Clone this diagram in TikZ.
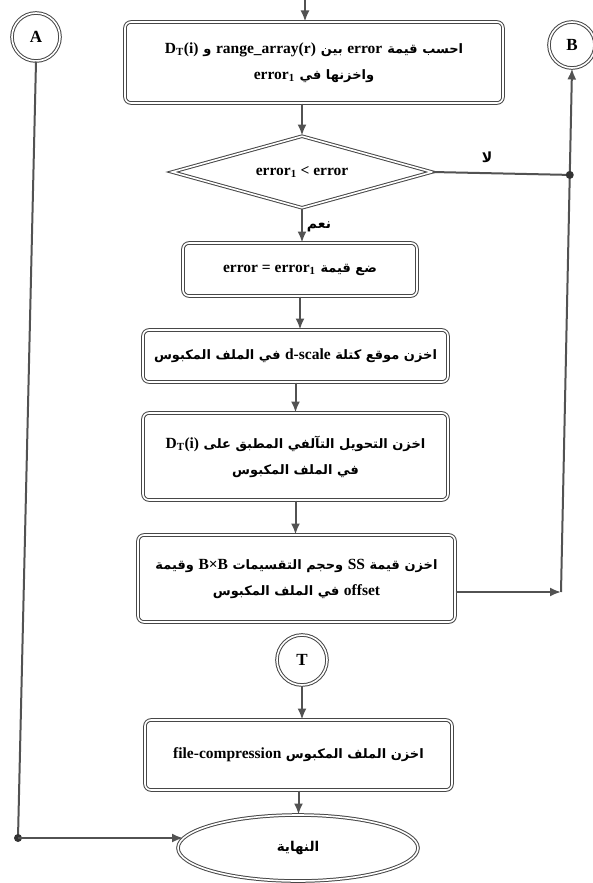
\documentclass[tikz,border=0pt]{standalone}
\usepackage{fontspec}
\setmainfont{Liberation Serif}
\newfontfamily\arabicfont[Script=Arabic]{DejaVu Sans}
\TeXXeTstate=1
\usetikzlibrary{shapes.geometric,arrows.meta,calc}
\newcommand{\LatTxt}[1]{\beginL{\rmfamily\bfseries\fontsize{15.5}{26}\selectfont #1}\endL{}}
\newcommand{\AR}[1]{{\arabicfont\bfseries\beginR #1\endR}}
\newcommand{\gap}{\hspace{5pt}}
\begin{document}
\begin{tikzpicture}[x=1pt,y=-1pt,
  shapeborder/.style={draw=black!72, line width=1pt, double=white, double distance=1.6pt},
  procbox/.style={shapeborder, rectangle, rounded corners=6pt, align=center, inner sep=2pt, font=\fontsize{13}{26}\selectfont},
  conn/.style={draw=black!68, line width=2pt},
  arr/.style={conn, -{Latex[length=11pt,width=9pt]}},
  circ/.style={shapeborder, circle, inner sep=0pt, font=\fontsize{17}{19}\selectfont\bfseries},
  jdot/.style={circle, fill=black!80, inner sep=0pt, minimum size=8pt},
  lbl/.style={font=\fontsize{14}{16}\selectfont, inner sep=1pt}]
\useasboundingbox (0,0) rectangle (592,883);

% connectors on page
\node[circ, minimum size=48pt] (A) at (36,37) {A};
\node[circ, minimum size=46pt] (B) at (572,45) {B};

\node[procbox, minimum width=378pt, minimum height=81pt] (b1) at (314,62.5)
 {\AR{احسب قيمة\gap \LatTxt{error} بين\gap \LatTxt{range\_array(r)} و\gap \LatTxt{D\textsubscript{T}(i)}}\\
  \AR{واخزنها في\gap \LatTxt{error\textsubscript{1}}}};

\node[shapeborder, diamond, minimum width=260pt, minimum height=72pt, inner sep=0pt,
      shape aspect=4, font=\fontsize{15.5}{18}\selectfont\bfseries] (dia) at (302,172)
 {error\textsubscript{1} < error};

\node[procbox, minimum width=234pt, minimum height=53pt] (b2) at (300,269.5)
 {\AR{ضع قيمة\gap \LatTxt{error = error\textsubscript{1}}}};

\node[procbox, minimum width=305pt, minimum height=52pt] (b3) at (295.5,356)
 {\AR{اخزن موقع كتلة \LatTxt{d-scale} في الملف المكبوس}};

\node[procbox, minimum width=305pt, minimum height=87pt] (b4) at (295.5,456.5)
 {\AR{اخزن التحويل التآلفي المطبق على \LatTxt{D\textsubscript{T}(i)}}\\
  \AR{في الملف المكبوس}};

\node[procbox, minimum width=317pt, minimum height=87pt] (b5) at (296.5,578.5)
 {\AR{اخزن قيمة \LatTxt{SS} وحجم التقسيمات \LatTxt{B×B} وقيمة}\\
  \AR{\LatTxt{offset} في الملف المكبوس}};

\node[circ, minimum size=50pt] (T) at (302,660) {T};

\node[procbox, minimum width=307pt, minimum height=70pt] (b6) at (298.5,755)
 {\AR{اخزن الملف المكبوس \LatTxt{file-compression}}};

\node[shapeborder, ellipse, minimum width=240pt, minimum height=66pt, inner sep=0pt,
      font=\fontsize{13.5}{15}\selectfont] (ell) at (298,848) {\AR{النهاية}};

% labels
\node[lbl] (no) at (487,157) {\AR{لا}};
\node[lbl] (yes) at (319,227) {\AR{نعم}};

% coordinates
\coordinate (top) at (305,0);
\coordinate (corner) at (561,592);
\coordinate (jB) at ($(corner)!(dia.east)!(B.south)$);
\coordinate (dA) at (18,838);

% flow
\draw[arr] (top) -- (top |- b1.north);
\draw[arr] (dia.north |- b1.south) -- (dia.north);
\draw[arr] (dia.south) -- (dia.south |- b2.north);
\draw[arr] (b2.south) -- (b2.south |- b3.north);
\draw[arr] (b3.south) -- (b3.south |- b4.north);
\draw[arr] (b4.south) -- (b4.south |- b5.north);
\draw[arr] (T.south) -- (T.south |- b6.north);
\draw[arr] (b6.south) -- (b6.south |- ell.north);

% no branch and B loop
\draw[conn] (dia.east) -- (jB);
\draw[arr] (b5.east |- corner) -- (corner);
\draw[arr] (corner) -- (B.south);
\node[jdot] (jdotB) at (jB) {};

% A to end
\draw[conn] (A.south) -- (dA);
\node[jdot] (jdotA) at (dA) {};
\draw[arr] (dA) -- (dA -| ell.175);
\end{tikzpicture}
\end{document}
